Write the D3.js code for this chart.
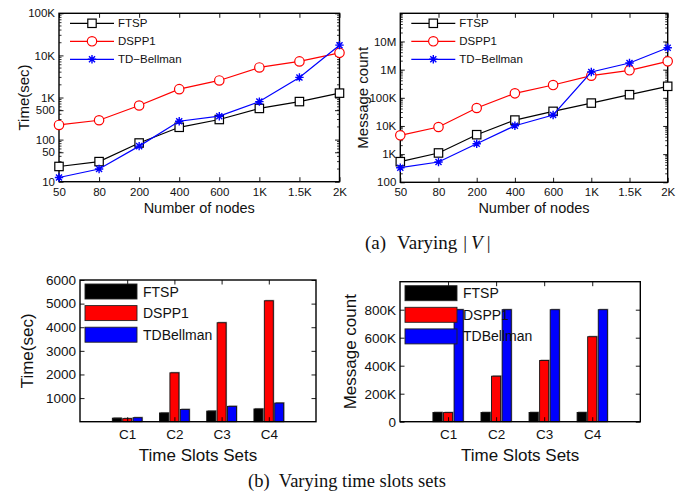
<!DOCTYPE html>
<html>
<head>
<meta charset="utf-8">
<script src="https://cdn.jsdelivr.net/npm/d3@7"></script>
<style>
  body { margin: 0; background: #fff; }
  svg { font-family: "Liberation Sans", Arial, sans-serif; }
  .cap { font-family: "Liberation Serif", "Times New Roman", serif; }
</style>
</head>
<body>
<svg id="chart" width="691" height="496"></svg>
<script>
// ---- data ----
const nodes = ["50", "80", "200", "400", "600", "1K", "1.5K", "2K"];
const timeFTSP  = [23, 30, 83, 196, 300, 550, 800, 1270];
const timeDSPP1 = [223, 288, 646, 1580, 2540, 5180, 7200, 11500];
const timeTDB   = [12.6, 20, 70, 273, 360, 800, 3000, 17500];
const msgFTSP  = [540, 1100, 4900, 16200, 33000, 65000, 129000, 256000];
const msgDSPP1 = [4660, 9200, 43400, 144000, 284000, 610000, 946000, 1970000];
const msgTDB   = [330, 525, 2340, 10200, 24500, 824000, 1720000, 6000000];

const slotSets = ["C1", "C2", "C3", "C4"];
const slotTimeFTSP  = [150, 370, 450, 540];
const slotTimeDSPP1 = [130, 2070, 4190, 5120];
const slotTimeTDB   = [170, 520, 650, 790];
const slotMsgFTSP  = [66000, 66000, 66000, 66000];
const slotMsgDSPP1 = [65000, 325000, 437000, 607000];
const slotMsgTDB   = [800000, 800000, 800000, 800000];

const timeTicks = [10, 50, 100, 500, 1000, 10000, 100000];
const timeTickLabels = ["10", "50", "100", "500", "1K", "10K", "100K"];
const msgTicks = [100, 1e3, 1e4, 1e5, 1e6, 1e7];
const msgTickLabels = ["100", "1K", "10K", "100K", "1M", "10M"];
const slotTimeTicks = [1000, 2000, 3000, 4000, 5000, 6000];
const slotMsgTicks = [0, 200000, 400000, 600000, 800000];
const slotMsgTickLabels = ["0", "200K", "400K", "600K", "800K"];

const lineNames = ["FTSP", "DSPP1", "TD\u2212Bellman"];
const barNames = ["FTSP", "DSPP1", "TDBellman"];
const lineColors = ["#000", "#ff0000", "#0000ff"];
const barColors = ["#000", "#ff0000", "#0000ff"];
const markers = ["square", "circle", "star"];

const svg = d3.select("#chart");

function drawMarker(g, type, x, y, color) {
  if (type === "square") {
    g.append("rect").attr("x", x - 4.2).attr("y", y - 4.2).attr("width", 8.4).attr("height", 8.4)
      .attr("fill", "#fff").attr("stroke", color).attr("stroke-width", 1.2);
  } else if (type === "circle") {
    g.append("circle").attr("cx", x).attr("cy", y).attr("r", 4.7)
      .attr("fill", "#fff").attr("stroke", color).attr("stroke-width", 1.2);
  } else {
    const r = 4.2, d = r * 0.72;
    g.append("path")
      .attr("d", `M${x - r},${y}H${x + r}M${x},${y - r}V${y + r}M${x - d},${y - d}L${x + d},${y + d}M${x - d},${y + d}L${x + d},${y - d}`)
      .attr("stroke", color).attr("stroke-width", 1.4);
  }
}

function minorLogTicks(lo, hi) {
  const out = [];
  for (let p = Math.log10(lo); p < Math.log10(hi); p++) {
    for (let k = 2; k < 10; k++) out.push(k * Math.pow(10, p));
  }
  return out;
}

function lineChart(box, series, yDomain, ticks, tickLabels, yTitle, yTitleX) {
  const [x0, x1, y0, y1] = box; // left, right, top, bottom
  const x = d3.scalePoint().domain(nodes).range([x0, x1]);
  const y = d3.scaleLog().domain(yDomain).range([y1, y0]);
  const g = svg.append("g");

  // minor ticks left and right
  minorLogTicks(yDomain[0], yDomain[1]).forEach(v => {
    g.append("line").attr("x1", x0).attr("x2", x0 + 2.5).attr("y1", y(v)).attr("y2", y(v)).attr("stroke", "#000").attr("stroke-width", 0.8);
    g.append("line").attr("x1", x1).attr("x2", x1 - 2.5).attr("y1", y(v)).attr("y2", y(v)).attr("stroke", "#000").attr("stroke-width", 0.8);
  });

  const fmt = v => tickLabels[ticks.indexOf(v)];
  g.append("g").attr("transform", `translate(${x0},0)`)
    .call(d3.axisLeft(y).tickValues(ticks).tickFormat(fmt).tickSizeInner(-4.5).tickSizeOuter(0).tickPadding(4));
  g.append("g").attr("transform", `translate(${x1},0)`)
    .call(d3.axisRight(y).tickValues(ticks).tickFormat("").tickSizeInner(-4.5).tickSizeOuter(0));
  g.append("g").attr("transform", `translate(0,${y1})`)
    .call(d3.axisBottom(x).tickSizeInner(-4.5).tickSizeOuter(0).tickPadding(6));
  g.append("g").attr("transform", `translate(0,${y0})`)
    .call(d3.axisTop(x).tickFormat("").tickSizeInner(-4.5).tickSizeOuter(0));
  g.selectAll(".domain").remove();
  g.selectAll(".tick line").attr("stroke", "#000").attr("stroke-width", 0.9);
  g.selectAll(".tick text").attr("font-size", 11.5).attr("font-family", "Liberation Sans, Arial, sans-serif").attr("fill", "#111");

  g.append("rect").attr("x", x0).attr("y", y0).attr("width", x1 - x0).attr("height", y1 - y0)
    .attr("fill", "none").attr("stroke", "#000").attr("stroke-width", 1.4);

  const line = d3.line().x((d, i) => x(nodes[i])).y(d => y(d));
  series.forEach((s, si) => {
    g.append("path").datum(s).attr("d", line).attr("fill", "none")
      .attr("stroke", lineColors[si]).attr("stroke-width", 1.2);
    s.forEach((v, i) => drawMarker(g, markers[si], x(nodes[i]), y(v), lineColors[si]));
  });

  // legend
  const lx = x0 + 11, ly = y0 + 10;
  lineNames.forEach((n, i) => {
    const yy = ly + i * 18;
    g.append("line").attr("x1", lx).attr("x2", lx + 44).attr("y1", yy).attr("y2", yy)
      .attr("stroke", lineColors[i]).attr("stroke-width", 1.2);
    drawMarker(g, markers[i], lx + 22, yy, lineColors[i]);
    g.append("text").attr("x", lx + 48).attr("y", yy + 4).attr("font-size", 11.5).attr("fill", "#111").text(n);
  });

  g.append("text").attr("x", (x0 + x1) / 2).attr("y", y1 + 31).attr("text-anchor", "middle")
    .attr("font-size", 14.5).attr("fill", "#111").text("Number of nodes");
  g.append("text").attr("transform", `translate(${yTitleX},${(y0 + y1) / 2}) rotate(-90)`)
    .attr("text-anchor", "middle").attr("font-size", 15).attr("fill", "#111").text(yTitle);
}

function barChart(box, series, yMax, ticks, tickLabels, yTitle, yTitleX) {
  const [x0, x1, y0, y1] = box;
  const x = d3.scaleLinear().domain([0, 5]).range([x0, x1]);
  const y = d3.scaleLinear().domain([0, yMax]).range([y1, y0]);
  const g = svg.append("g");
  const unit = x(1) - x(0);
  const pitch = unit * 0.22, bw = unit * 0.19;

  // bars
  series.forEach((s, si) => {
    s.forEach((v, i) => {
      const cx = x(i + 1) + (si - 1) * pitch;
      g.append("rect").attr("x", cx - bw / 2 + 1).attr("y", y(v) - 1).attr("width", bw).attr("height", y1 - y(v) + 1)
        .attr("fill", "#999");
      g.append("rect").attr("x", cx - bw / 2).attr("y", y(v)).attr("width", bw).attr("height", y1 - y(v))
        .attr("fill", barColors[si]).attr("stroke", "#111").attr("stroke-width", 0.9);
    });
  });

  const fmt = tickLabels ? (v => tickLabels[ticks.indexOf(v)]) : (v => String(v));
  g.append("g").attr("transform", `translate(${x0},0)`)
    .call(d3.axisLeft(y).tickValues(ticks).tickFormat(fmt).tickSizeInner(-4.5).tickSizeOuter(0).tickPadding(4));
  g.append("g").attr("transform", `translate(${x1},0)`)
    .call(d3.axisRight(y).tickValues(ticks).tickFormat("").tickSizeInner(-4.5).tickSizeOuter(0));
  g.append("g").attr("transform", `translate(0,${y1})`)
    .call(d3.axisBottom(x).tickValues([1, 2, 3, 4]).tickFormat(d => slotSets[d - 1]).tickSizeInner(-4.5).tickSizeOuter(0).tickPadding(8));
  g.append("g").attr("transform", `translate(0,${y0})`)
    .call(d3.axisTop(x).tickValues([1, 2, 3, 4]).tickFormat("").tickSizeInner(-4.5).tickSizeOuter(0));
  g.selectAll(".domain").remove();
  g.selectAll(".tick line").attr("stroke", "#000").attr("stroke-width", 0.9);
  g.selectAll(".tick text").attr("font-size", 13.5).attr("font-family", "Liberation Sans, Arial, sans-serif").attr("fill", "#111");

  g.append("rect").attr("x", x0).attr("y", y0).attr("width", x1 - x0).attr("height", y1 - y0)
    .attr("fill", "none").attr("stroke", "#000").attr("stroke-width", 1.4);

  // legend
  const lx = x0 + 5, ly = y0 + 4;
  barNames.forEach((n, i) => {
    const yy = ly + i * 21.6;
    g.append("rect").attr("x", lx).attr("y", yy).attr("width", 52).attr("height", 15)
      .attr("fill", barColors[i]).attr("stroke", "#222").attr("stroke-width", 0.9);
    g.append("text").attr("x", lx + 58).attr("y", yy + 12.5).attr("font-size", 14).attr("fill", "#111").text(n);
  });

  g.append("text").attr("x", (x0 + x1) / 2).attr("y", y1 + 39).attr("text-anchor", "middle")
    .attr("font-size", 17).attr("fill", "#111").text("Time Slots Sets");
  g.append("text").attr("transform", `translate(${yTitleX},${(y0 + y1) / 2}) rotate(-90)`)
    .attr("text-anchor", "middle").attr("font-size", 17).attr("fill", "#111").text(yTitle);
}

lineChart([59, 339.5, 13.3, 181.7], [timeFTSP, timeDSPP1, timeTDB], [10, 100000],
  timeTicks, timeTickLabels, "Time(sec)", 29);
lineChart([400.3, 667.7, 13.3, 182.3], [msgFTSP, msgDSPP1, msgTDB], [100, 1e8],
  msgTicks, msgTickLabels, "Message count", 368);

barChart([80, 316, 280, 421.7], [slotTimeFTSP, slotTimeDSPP1, slotTimeTDB], 6000,
  slotTimeTicks, null, "Time(sec)", 33);
barChart([400, 640.3, 281.7, 421.7], [slotMsgFTSP, slotMsgDSPP1, slotMsgTDB], 1000000,
  slotMsgTicks, slotMsgTickLabels, "Message count", 356);

// captions
const capA = svg.append("text").attr("class", "cap").attr("x", 365).attr("y", 248.5)
  .attr("font-size", 19).attr("fill", "#111");
capA.append("tspan").text("(a)");
capA.append("tspan").attr("dx", 11).text("Varying");
capA.append("tspan").attr("dx", 6).text("|");
capA.append("tspan").attr("dx", 4).attr("font-style", "italic").text("V");
capA.append("tspan").attr("dx", 4).text("|");
svg.append("text").attr("class", "cap").attr("x", 248).attr("y", 486.5)
  .attr("font-size", 18.5).attr("fill", "#111")
  .text("(b)\u2002Varying time slots sets");
</script>
</body>
</html>
